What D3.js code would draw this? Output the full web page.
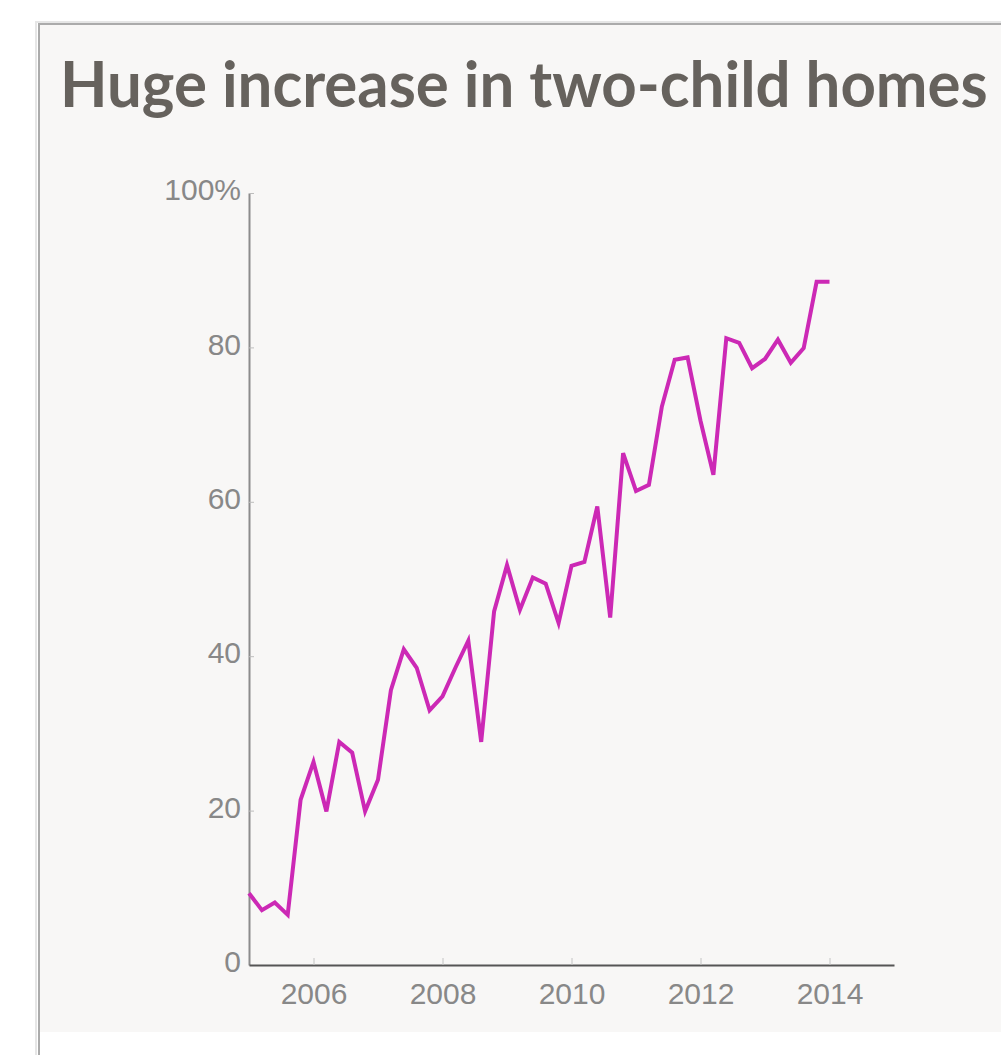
<!DOCTYPE html>
<html>
<head>
<meta charset="utf-8">
<script src="https://cdn.jsdelivr.net/npm/d3@7"></script>
<style>
  body { margin: 0; background: #ffffff; }
  svg { display: block; }
</style>
</head>
<body>
<div id="chart"></div>
<script>
// Data (share of homes, %)
const years = [
  2005.0, 2005.2, 2005.4, 2005.6, 2005.8,
  2006.0, 2006.2, 2006.4, 2006.6, 2006.8,
  2007.0, 2007.2, 2007.4, 2007.6, 2007.8,
  2008.0, 2008.2, 2008.4, 2008.6, 2008.8,
  2009.0, 2009.2, 2009.4, 2009.6, 2009.8,
  2010.0, 2010.2, 2010.4, 2010.6, 2010.8,
  2011.0, 2011.2, 2011.4, 2011.6, 2011.8,
  2012.0, 2012.2, 2012.4, 2012.6, 2012.8,
  2013.0, 2013.2, 2013.4, 2013.6, 2013.8,
  2014.0
];
const values = [
  9.3, 7.1, 8.1, 6.5, 21.4,
  26.3, 19.9, 28.9, 27.5, 19.9,
  24.0, 35.6, 40.9, 38.5, 33.0,
  34.8, 38.5, 42.0, 28.9, 45.8,
  51.8, 46.0, 50.2, 49.4, 44.3,
  51.7, 52.2, 59.4, 45.0, 66.3,
  61.4, 62.2, 72.3, 78.4, 78.7,
  70.5, 63.5, 81.2, 80.6, 77.3,
  78.5, 81.0, 78.0, 79.9, 88.5,
  88.5
];
const xTicks = [2006, 2008, 2010, 2012, 2014];
const yTicks = [0, 20, 40, 60, 80, 100];
const title = 'Huge increase in two-child homes';

const data = years.map((yr, i) => ({ year: yr, value: values[i] }));

const W = 1001, H = 1055;

const svg = d3.select('#chart')
  .append('svg')
  .attr('width', W)
  .attr('height', H);

// Card / panel
svg.append('rect')
  .attr('x', 36).attr('y', 22)
  .attr('width', W).attr('height', H)
  .attr('fill', 'none')
  .attr('stroke', '#e6e6e6')
  .attr('stroke-width', 2);

svg.append('rect')
  .attr('x', 39).attr('y', 24)
  .attr('width', W).attr('height', H)
  .attr('fill', '#ffffff')
  .attr('stroke', '#ababab')
  .attr('stroke-width', 2);

svg.append('rect')
  .attr('x', 40).attr('y', 25)
  .attr('width', W).attr('height', 1032 - 25)
  .attr('fill', '#f8f7f6');

// Title: full height, squeezed horizontally to the reference width
const titleText = svg.append('text')
  .attr('x', 0)
  .attr('y', 0)
  .attr('font-family', 'Lato, sans-serif')
  .attr('font-weight', 'bold')
  .attr('font-size', '63px')
  .attr('fill', '#66625d')
  .text(title);

const natural = titleText.node().getComputedTextLength();
const sx = Math.min(1, 928 / natural);
titleText.attr('transform', `translate(60,107) scale(${sx},1)`);

// Scales
const x = d3.scaleLinear()
  .domain([2005, 2015])
  .range([249, 894]);

const y = d3.scaleLinear()
  .domain([0, 100])
  .range([965, 193]);

// Y axis
const yAxis = d3.axisLeft(y)
  .tickValues(yTicks)
  .tickSize(-5)
  .tickSizeOuter(0)
  .tickPadding(8)
  .tickFormat(d => d === 100 ? '100%' : d);

const gy = svg.append('g')
  .attr('class', 'axis y-axis')
  .attr('transform', 'translate(249,0)')
  .call(yAxis);

gy.select('.domain').attr('stroke', '#8c8c8c').attr('stroke-width', 2);
gy.selectAll('.tick line').attr('stroke', '#bdbdbd');
gy.selectAll('.tick text')
  .attr('dy', '0.22em')
  .attr('fill', '#888888')
  .attr('font-family', '"Liberation Sans", Arial, sans-serif')
  .attr('font-size', '30px');

// X axis
const xAxis = d3.axisBottom(x)
  .tickValues(xTicks)
  .tickSize(-7)
  .tickSizeOuter(0)
  .tickPadding(18)
  .tickFormat(d3.format('d'));

const gx = svg.append('g')
  .attr('class', 'axis x-axis')
  .attr('transform', 'translate(0,965)')
  .call(xAxis);

gx.select('.domain').attr('stroke', '#555555').attr('stroke-width', 2);
gx.selectAll('.tick line').attr('stroke', '#c4c4c4');
gx.selectAll('.tick text')
  .attr('fill', '#888888')
  .attr('font-family', '"Liberation Sans", Arial, sans-serif')
  .attr('font-size', '30px');

// Line
const line = d3.line()
  .x(d => x(d.year))
  .y(d => y(d.value));

svg.append('path')
  .datum(data)
  .attr('fill', 'none')
  .attr('stroke', '#cc29b5')
  .attr('stroke-width', 4)
  .attr('stroke-linejoin', 'miter')
  .attr('d', line);
</script>
</body>
</html>
